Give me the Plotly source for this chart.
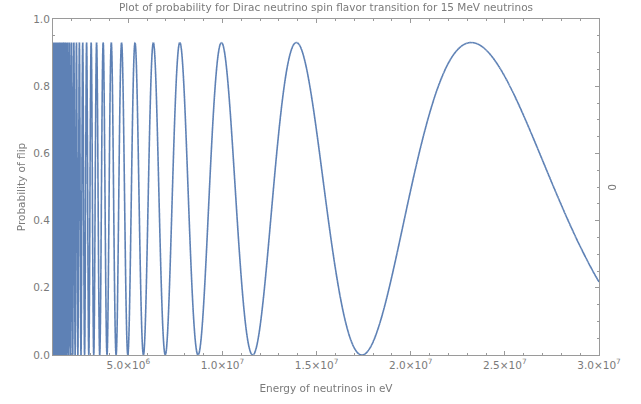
import numpy as np
import plotly.graph_objects as go

# Values
energy_range = [1.0e6, 3.0e7]          # eV, x extent of the frame
peak_probability = 0.93                 # height of every oscillation peak
second_zero_energy = 1.741e7            # eV, the deep zero near 1.74e7
x_tick_values = [5e6, 1e7, 1.5e7, 2e7, 2.5e7, 3e7]
x_tick_labels = ["5.0×10<sup>6</sup>", "1.0×10<sup>7</sup>", "1.5×10<sup>7</sup>",
                 "2.0×10<sup>7</sup>", "2.5×10<sup>7</sup>", "3.0×10<sup>7</sup>"]
y_tick_values = [0.0, 0.2, 0.4, 0.6, 0.8, 1.0]
y_tick_labels = ["0.0", "0.2", "0.4", "0.6", "0.8", "1.0"]

# P(E) = A sin^2(k / E); k fixed by the second zero (k/E = 2π)
k = 2 * np.pi * second_zero_energy
energy = np.linspace(energy_range[0], energy_range[1], 90000)
probability = peak_probability * np.sin(k / energy) ** 2

grey = "#7a7a7a"
frame = "#9a9a9a"
font = "DejaVu Sans"
fs = 10.5

fig = go.Figure()
fig.add_trace(go.Scattergl(x=energy, y=probability, mode="lines",
                           line=dict(color="#5E81B5", width=1.6),
                           hoverinfo="skip", showlegend=False))

axis_common = dict(showline=True, linecolor=frame, linewidth=1, mirror="ticks",
                   ticks="inside", tickcolor=frame, ticklen=4, tickwidth=1,
                   showgrid=False, zeroline=False, automargin=False,
                   tickfont=dict(family=font, size=fs, color=grey))

fig.update_layout(
    width=641, height=404,
    margin=dict(l=53, r=42, t=19, b=49),
    paper_bgcolor="white", plot_bgcolor="white",
    xaxis=dict(range=energy_range, tickmode="array", tickvals=x_tick_values,
               ticktext=x_tick_labels,
               minor=dict(tickmode="linear", tick0=0, dtick=1e6, ticks="inside",
                          ticklen=2, tickcolor=frame, showgrid=False),
               title=dict(text="Energy of neutrinos in eV",
                          font=dict(family=font, size=fs, color=grey), standoff=15),
               **axis_common),
    yaxis=dict(range=[0, 1], tickmode="array", tickvals=y_tick_values,
               ticktext=y_tick_labels,
               minor=dict(tickmode="linear", tick0=0, dtick=0.05, ticks="inside",
                          ticklen=2, tickcolor=frame, showgrid=False),
               title=dict(text="Probability of flip",
                          font=dict(family=font, size=fs, color=grey), standoff=5),
               **axis_common),
    annotations=[
        dict(text="Plot of probability for Dirac neutrino spin flavor transition for 15 MeV neutrinos",
             x=0.5, xref="paper", xanchor="center", y=1.0, yref="paper",
             yanchor="middle", yshift=12, showarrow=False,
             font=dict(family=font, size=fs, color=grey)),
        dict(text="0", x=1.0, xref="paper", xanchor="center", xshift=13,
             y=0.5, yref="paper", yanchor="middle", showarrow=False, textangle=90,
             font=dict(family=font, size=fs, color=grey)),
    ],
)

fig.write_html("out.html", config={"displayModeBar": False},
               post_script="document.body.style.margin='0';document.body.style.overflow='hidden';")
